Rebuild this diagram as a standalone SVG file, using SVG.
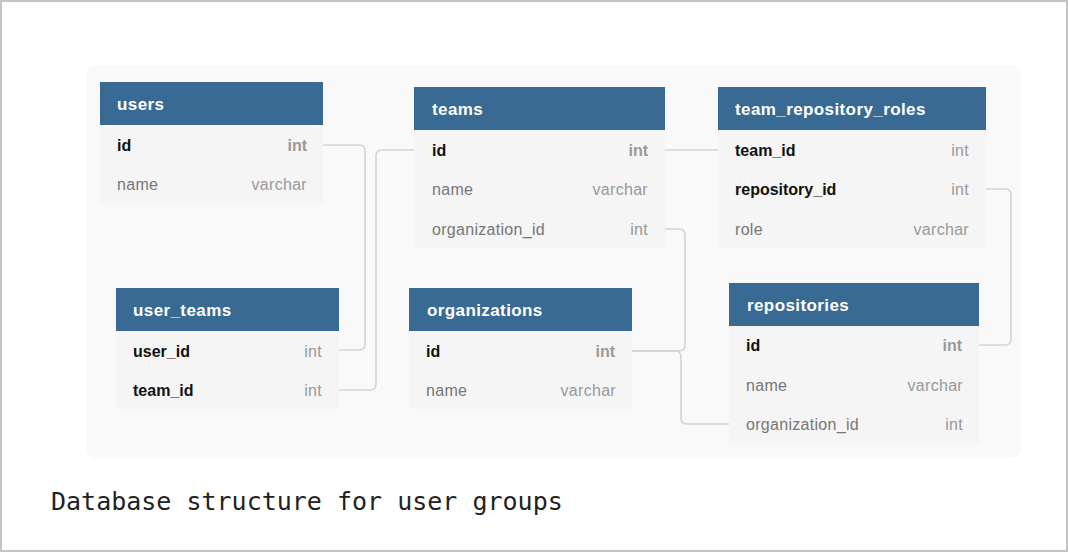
<svg xmlns="http://www.w3.org/2000/svg" width="1068" height="552" viewBox="0 0 1068 552">
<style>
.hd{fill:#386a94}
.bd{fill:#f5f5f5}
.ht{font-family:"Liberation Sans",Arial,sans-serif;font-size:17px;font-weight:bold;fill:#ffffff;letter-spacing:0.4px}
.k{font-family:"Liberation Sans",Arial,sans-serif;font-size:16px;font-weight:bold;fill:#111111}
.f{font-family:"Liberation Sans",Arial,sans-serif;font-size:16px;fill:#777777;letter-spacing:0.3px}
.t{font-family:"Liberation Sans",Arial,sans-serif;font-size:16px;fill:#999999;text-anchor:end;letter-spacing:0.3px}
.tk{font-family:"Liberation Sans",Arial,sans-serif;font-size:16px;fill:#999999;text-anchor:end;font-weight:bold}
.c{fill:none;stroke:#d4d4d4;stroke-width:1.6}
</style>
<rect x="0" y="0" width="1068" height="552" fill="#ffffff"/>
<rect x="1" y="1" width="1066" height="550" fill="none" stroke="#c4c4c4" stroke-width="2"/>
<rect x="86" y="65" width="935" height="393" rx="10" fill="#f9f9f9"/>

<g id="connectors">
<path class="c" d="M323,145 H359 Q365,145 365,151 V344 Q365,350 359,350 H339"/>
<path class="c" d="M414,150 H382 Q376,150 376,156 V384 Q376,390 370,390 H339"/>
<path class="c" d="M665,150 H718"/>
<path class="c" d="M665,229 H679 Q685,229 685,235 V345 Q685,351 679,351 H632"/>
<path class="c" d="M632,351 H675 Q681,351 681,357 V418 Q681,424 687,424 H729"/>
<path class="c" d="M986,189 H1005 Q1011,189 1011,195 V339 Q1011,345 1005,345 H979"/>
</g>

<g id="users">
<rect class="bd" x="100" y="125" width="223" height="79"/>
<rect class="hd" x="100" y="82" width="223" height="43"/>
<text class="ht" x="117" y="110">users</text>
<text class="k" x="117" y="151">id</text><text class="tk" x="307" y="151">int</text>
<text class="f" x="117" y="190">name</text><text class="t" x="307" y="190">varchar</text>
</g>

<g id="teams">
<rect class="bd" x="414" y="130" width="251" height="118"/>
<rect class="hd" x="414" y="87" width="251" height="43"/>
<text class="ht" x="432" y="115">teams</text>
<text class="k" x="432" y="156">id</text><text class="tk" x="648" y="156">int</text>
<text class="f" x="432" y="195">name</text><text class="t" x="648" y="195">varchar</text>
<text class="f" x="432" y="235">organization_id</text><text class="t" x="648" y="235">int</text>
</g>

<g id="team_repository_roles">
<rect class="bd" x="718" y="130" width="268" height="118"/>
<rect class="hd" x="718" y="87" width="268" height="43"/>
<text class="ht" x="735" y="115">team_repository_roles</text>
<text class="k" x="735" y="156">team_id</text><text class="t" x="969" y="156">int</text>
<text class="k" x="735" y="195">repository_id</text><text class="t" x="969" y="195">int</text>
<text class="f" x="735" y="235">role</text><text class="t" x="969" y="235">varchar</text>
</g>

<g id="user_teams">
<rect class="bd" x="116" y="331" width="223" height="78"/>
<rect class="hd" x="116" y="288" width="223" height="43"/>
<text class="ht" x="133" y="316">user_teams</text>
<text class="k" x="133" y="357">user_id</text><text class="t" x="322" y="357">int</text>
<text class="k" x="133" y="396">team_id</text><text class="t" x="322" y="396">int</text>
</g>

<g id="organizations">
<rect class="bd" x="409" y="331" width="223" height="78"/>
<rect class="hd" x="409" y="288" width="223" height="43"/>
<text class="ht" x="427" y="316">organizations</text>
<text class="k" x="426" y="357">id</text><text class="tk" x="615" y="357">int</text>
<text class="f" x="426" y="396">name</text><text class="t" x="616" y="396">varchar</text>
</g>

<g id="repositories">
<rect class="bd" x="729" y="326" width="250" height="117"/>
<rect class="hd" x="729" y="283" width="250" height="43"/>
<text class="ht" x="747" y="311">repositories</text>
<text class="k" x="746" y="351">id</text><text class="tk" x="962" y="351">int</text>
<text class="f" x="746" y="391">name</text><text class="t" x="963" y="391">varchar</text>
<text class="f" x="746" y="430">organization_id</text><text class="t" x="963" y="430">int</text>
</g>

<text x="51" y="510" font-family="'DejaVu Sans Mono','Liberation Mono',monospace" font-size="25px" fill="#222222">Database structure for user groups</text>
</svg>
